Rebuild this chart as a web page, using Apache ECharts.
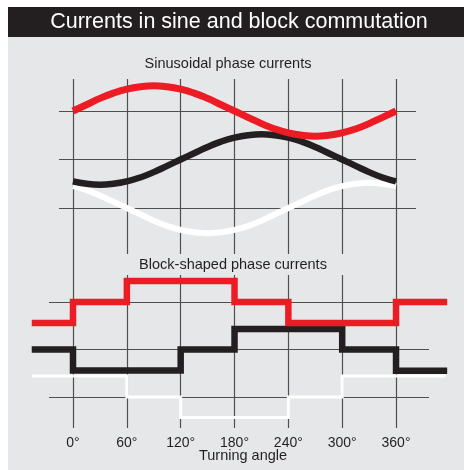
<!DOCTYPE html>
<html>
<head>
<meta charset="utf-8">
<script src="https://cdn.jsdelivr.net/npm/echarts@6/dist/echarts.min.js"></script>
<style>html,body{margin:0;padding:0;background:#fff}#c{width:464px;height:470px}</style>
</head>
<body>
<div id="c"></div>
<script>
// ---- data ----
const sineAngles = [0,15,30,45,60,75,90,105,120,135,150,165,180,195,210,225,240,255,270,285,300,315,330,345,360];
const sineRed   = [2.00,2.13,2.26,2.37,2.45,2.50,2.52,2.50,2.45,2.37,2.26,2.13,2.00,1.87,1.74,1.63,1.55,1.50,1.48,1.50,1.55,1.63,1.74,1.87,2.00];
const sineBlack = [0.55,0.50,0.48,0.50,0.55,0.63,0.74,0.87,1.00,1.13,1.26,1.37,1.45,1.50,1.52,1.50,1.45,1.37,1.26,1.13,1.00,0.87,0.74,0.63,0.55];
const sineWhite = [0.45,0.37,0.26,0.13,0.00,-0.13,-0.26,-0.37,-0.45,-0.50,-0.52,-0.50,-0.45,-0.37,-0.26,-0.13,0.00,0.13,0.26,0.37,0.45,0.50,0.52,0.50,0.45];

const blockRedX   = [-46, 0, 60, 180, 240, 360, 417];
const blockRedY   = [1.56, 2.00, 2.44, 2.00, 1.56, 2.00, 2.00];
const blockBlackX = [-46, 0, 120, 180, 300, 360, 417];
const blockBlackY = [1.00, 0.56, 1.00, 1.43, 1.00, 0.55, 0.55];
const blockWhiteX = [-46, 60, 120, 240, 300, 415];
const blockWhiteY = [0.44, 0.00, -0.43, 0.00, 0.44, 0.44];

const innerAngles = [60, 120, 180, 240, 300];
const outerAngles = [0, 360];
const levels = [0, 1, 2];

const titleText = 'Currents in sine and block commutation';
const sineTitle = 'Sinusoidal phase currents';
const blockTitle = 'Block-shaped phase currents';
const xName = 'Turning angle';

// ---- chart ----
const FONT = '"Liberation Sans", Arial, Helvetica, sans-serif';
const RED = '#ed1c24', BLACK = '#231f20', WHITE = '#ffffff', GRID = '#4f4f4f';
const zip = (xs, ys) => xs.map((x, i) => [x, ys[i]]);
const gridLine = { color: GRID, width: 1.2, type: 'solid' };
const markLines = (vx, hy) => ({
  silent: true, symbol: 'none', label: { show: false }, z: 1,
  lineStyle: gridLine, animation: false,
  data: [...vx.map(v => ({ xAxis: v })), ...hy.map(v => ({ yAxis: v }))]
});
const hidden = { show: false };

const chart = echarts.init(document.getElementById('c'), null, { renderer: 'canvas' });
chart.setOption({
  animation: false,
  backgroundColor: '#ffffff',
  graphic: [
    { type: 'rect', z: -10, shape: { x: 8, y: 7, width: 456, height: 463 }, style: { fill: '#e6e7e8' } },
    { type: 'rect', z: -9, shape: { x: 8, y: 7, width: 456, height: 30 }, style: { fill: BLACK } }
  ],
  title: [
    { text: titleText, left: 239, top: 11, textAlign: 'center', padding: 0,
      textStyle: { color: '#fff', fontSize: 21.5, fontWeight: 'normal', fontFamily: FONT } },
    { text: sineTitle, left: 228, top: 56, textAlign: 'center', padding: 0,
      textStyle: { color: BLACK, fontSize: 14.5, fontWeight: 'normal', fontFamily: FONT } },
    { text: blockTitle, left: 233, top: 257, textAlign: 'center', padding: 0,
      textStyle: { color: BLACK, fontSize: 14.5, fontWeight: 'normal', fontFamily: FONT } },
    { text: xName, left: 243, top: 448, textAlign: 'center', padding: 0,
      textStyle: { color: BLACK, fontSize: 14.5, fontWeight: 'normal', fontFamily: FONT } }
  ],
  grid: [
    { left: 59, width: 357, top: 79, height: 175 },   // sine panel
    { left: 32, width: 415, top: 275, height: 153 },  // block panel: series + vertical lines
    { left: 49, width: 380, top: 275, height: 153 },  // block panel: horizontal lines
    { left: 73, width: 323, top: 79, height: 349 }    // full-height 0° / 360° lines + x labels
  ],
  xAxis: [
    { type: 'value', gridIndex: 0, min: -15.6, max: 382.3, ...hidden },
    { type: 'value', gridIndex: 1, min: -45.7, max: 416.8, ...hidden },
    { type: 'value', gridIndex: 2, min: -26.75, max: 396.8, ...hidden },
    { type: 'value', gridIndex: 3, min: 0, max: 360, interval: 60, position: 'bottom',
      axisLine: { show: false }, axisTick: { show: false }, splitLine: { show: false },
      axisLabel: { formatter: '{value}°', color: BLACK, fontSize: 14, margin: 8, fontFamily: FONT } }
  ],
  yAxis: [
    { type: 'value', gridIndex: 0, min: -0.948, max: 2.66, ...hidden },
    { type: 'value', gridIndex: 1, min: -0.653, max: 2.568, ...hidden },
    { type: 'value', gridIndex: 2, min: -0.653, max: 2.568, ...hidden },
    { type: 'value', gridIndex: 3, min: 0, max: 1, ...hidden }
  ],
  series: [
    { type: 'line', xAxisIndex: 0, yAxisIndex: 0, data: [], z: 1, markLine: markLines(innerAngles, levels) },
    { type: 'line', xAxisIndex: 1, yAxisIndex: 1, data: [], z: 1, markLine: markLines(innerAngles, []) },
    { type: 'line', xAxisIndex: 2, yAxisIndex: 2, data: [], z: 1, markLine: markLines([], levels) },
    { type: 'line', xAxisIndex: 3, yAxisIndex: 3, data: [], z: 1, markLine: markLines(outerAngles, []) },

    { name: 'sine red', type: 'line', xAxisIndex: 0, yAxisIndex: 0, z: 5, smooth: true, symbol: 'none',
      data: zip(sineAngles, sineRed), lineStyle: { color: RED, width: 7 } },
    { name: 'sine black', type: 'line', xAxisIndex: 0, yAxisIndex: 0, z: 4, smooth: true, symbol: 'none',
      data: zip(sineAngles, sineBlack), lineStyle: { color: BLACK, width: 6.5 } },
    { name: 'sine white', type: 'line', xAxisIndex: 0, yAxisIndex: 0, z: 3, smooth: true, symbol: 'none',
      data: zip(sineAngles, sineWhite), lineStyle: { color: WHITE, width: 6 } },

    { name: 'block red', type: 'line', xAxisIndex: 1, yAxisIndex: 1, z: 5, step: 'end', symbol: 'none',
      data: zip(blockRedX, blockRedY), lineStyle: { color: RED, width: 6.5, join: 'miter' } },
    { name: 'block black', type: 'line', xAxisIndex: 1, yAxisIndex: 1, z: 4, step: 'end', symbol: 'none',
      data: zip(blockBlackX, blockBlackY), lineStyle: { color: BLACK, width: 6.5, join: 'miter' } },
    { name: 'block white', type: 'line', xAxisIndex: 1, yAxisIndex: 1, z: 3, step: 'end', symbol: 'none',
      data: zip(blockWhiteX, blockWhiteY), lineStyle: { color: WHITE, width: 3, join: 'miter' } }
  ]
});
</script>
</body>
</html>
